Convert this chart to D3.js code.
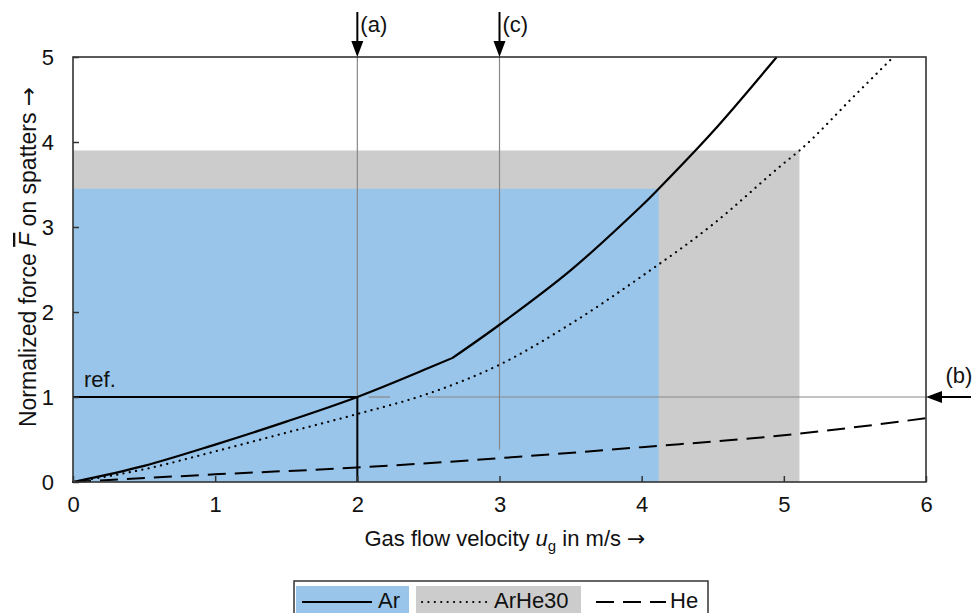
<!DOCTYPE html>
<html>
<head>
<meta charset="utf-8">
<script src="https://cdn.jsdelivr.net/npm/d3@7"></script>
<style>
  body { margin: 0; background: #fff; }
  text { font-family: "Liberation Sans", Arial, sans-serif; fill: #111; }
  .arr { font-family: "DejaVu Sans", sans-serif; }
</style>
</head>
<body>
<div id="chart"></div>
<script>
// curve data
var arU = [0, 0.5, 1, 1.5, 2, 2.5, 2.67, 3, 3.5, 4, 4.12, 4.5, 4.95];
var arF = [0, 0.19, 0.44, 0.71, 1.0, 1.34, 1.46, 1.85, 2.49, 3.25, 3.45, 4.12, 5.0];
var ahU = [0, 0.5, 1, 1.5, 2, 2.5, 3, 3.5, 4, 4.5, 5, 5.11, 5.5, 5.77];
var ahF = [0, 0.15, 0.36, 0.58, 0.8, 1.04, 1.38, 1.86, 2.42, 3.03, 3.75, 3.9, 4.55, 5.0];
var heU = [0, 1, 2, 3, 4, 5, 6];
var heF = [0, 0.09, 0.17, 0.28, 0.41, 0.55, 0.75];

// shaded ranges [uMax, Fmax]
var arRange = [4.12, 3.45];
var ahRange = [5.11, 3.9];

var xTicks = [0, 1, 2, 3, 4, 5, 6];
var yTicks = [0, 1, 2, 3, 4, 5];
var markers = [{u: 2, label: "(a)"}, {u: 3, label: "(c)"}];

var blue = "#99c5ea", grey = "#cccccc";
var fs = 22;

var svg = d3.select("#chart").append("svg")
    .attr("width", 976).attr("height", 613);

var margin = {left: 73, top: 57, right: 50, bottom: 131};
var width = 976 - margin.left - margin.right,
    height = 613 - margin.top - margin.bottom;

var g = svg.append("g").attr("transform", "translate(" + margin.left + "," + margin.top + ")");

var x = d3.scaleLinear().domain([0, 6]).range([0, width]);
var y = d3.scaleLinear().domain([0, 5]).range([height, 0]);

// shaded areas
g.append("rect").attr("x", 0).attr("y", y(ahRange[1]))
    .attr("width", x(ahRange[0])).attr("height", height - y(ahRange[1])).attr("fill", grey);
g.append("rect").attr("x", 0).attr("y", y(arRange[1]))
    .attr("width", x(arRange[0])).attr("height", height - y(arRange[1])).attr("fill", blue);

// grey helper lines
function helper(u1, f1, u2, f2) {
    g.append("line").attr("x1", x(u1)).attr("x2", x(u2)).attr("y1", y(f1)).attr("y2", y(f2))
        .attr("stroke", "#888").attr("stroke-width", 1.2);
}
helper(2, 5, 2, 1);
helper(3, 5, 3, 0.38);
helper(2.08, 1, 2.23, 1);
helper(2.49, 1, 6, 1);

// reference lines
g.append("path")
    .attr("d", d3.line()([[x(0), y(1)], [x(2), y(1)], [x(2), y(0)]]))
    .attr("fill", "none").attr("stroke", "#000").attr("stroke-width", 2);
g.append("text").attr("x", x(0) + 11).attr("y", y(1) - 10)
    .attr("font-size", fs).text("ref.");

// curves
var line = d3.line().x(function (d) { return x(d[0]); }).y(function (d) { return y(d[1]); })
    .curve(d3.curveMonotoneX);
var smooth = d3.line().x(function (d) { return x(d[0]); }).y(function (d) { return y(d[1]); })
    .curve(d3.curveCatmullRom.alpha(0.5));
function series(u, f) { return u.map(function (v, i) { return [v, f[i]]; }); }

g.append("path").attr("d", line(series(heU, heF)))
    .attr("fill", "none").attr("stroke", "#000").attr("stroke-width", 2)
    .attr("stroke-dasharray", "18,9");
g.append("path").attr("d", line(series(ahU, ahF)))
    .attr("fill", "none").attr("stroke", "#000").attr("stroke-width", 2.2)
    .attr("stroke-dasharray", "0.1,6.3").attr("stroke-linecap", "round");
// Ar has a kink at 2.67 m/s: draw the two branches as one path
var kink = 6;
g.append("path")
    .attr("d", line(series(arU.slice(0, kink + 1), arF.slice(0, kink + 1))) +
        smooth(series(arU.slice(kink), arF.slice(kink))).replace(/^M/, "L"))
    .attr("fill", "none").attr("stroke", "#000").attr("stroke-width", 2.2);

// axes
var xAxis = g.append("g").attr("transform", "translate(0," + height + ")")
    .call(d3.axisBottom(x).tickValues(xTicks).tickFormat(d3.format("d"))
        .tickSizeInner(-6).tickSizeOuter(0).tickPadding(14));
var yAxis = g.append("g")
    .call(d3.axisLeft(y).tickValues(yTicks).tickFormat(d3.format("d"))
        .tickSizeInner(-6).tickSizeOuter(0).tickPadding(19));
[xAxis, yAxis].forEach(function (a) {
    a.select(".domain").remove();
    a.selectAll(".tick line").attr("stroke", "#333").attr("stroke-width", 1.5);
    a.selectAll(".tick text").attr("font-size", fs).attr("font-family", "Liberation Sans, Arial, sans-serif").attr("fill", "#111");
});

// frame
g.append("rect").attr("x", 0).attr("y", 0).attr("width", width).attr("height", height)
    .attr("fill", "none").attr("stroke", "#333").attr("stroke-width", 1.6);

// marker arrows at top
markers.forEach(function (m) {
    var px = x(m.u);
    g.append("line").attr("x1", px).attr("x2", px).attr("y1", -45).attr("y2", -14)
        .attr("stroke", "#000").attr("stroke-width", 2);
    g.append("path").attr("d", "M" + (px - 6) + "," + (-16) + "L" + (px + 6) + "," + (-16) + "L" + px + ",0Z")
        .attr("fill", "#000");
    g.append("text").attr("x", px + 3).attr("y", -25).attr("font-size", fs).text(m.label);
});

// arrow (b) on right
var by = y(1), bx = x(6);
g.append("line").attr("x1", bx + 14).attr("x2", bx + 45).attr("y1", by).attr("y2", by)
    .attr("stroke", "#000").attr("stroke-width", 2);
g.append("path").attr("d", "M" + (bx + 16) + "," + (by - 6) + "L" + (bx + 16) + "," + (by + 6) + "L" + bx + "," + by + "Z")
    .attr("fill", "#000");
g.append("text").attr("x", bx + 33).attr("y", by - 14).attr("font-size", fs).attr("text-anchor", "middle").text("(b)");

// axis titles
var xt = svg.append("text").attr("x", 505).attr("y", 546).attr("font-size", fs).attr("text-anchor", "middle");
xt.append("tspan").text("Gas flow velocity ");
xt.append("tspan").attr("font-style", "italic").text("u");
xt.append("tspan").attr("font-size", 15).attr("dy", 5).text("g");
xt.append("tspan").attr("dy", -5).text(" in m/s ");
xt.append("tspan").attr("class", "arr").text("\u2192");

var yt = svg.append("text").attr("transform", "translate(36,257) rotate(-90)")
    .attr("font-size", 23).attr("text-anchor", "middle");
yt.append("tspan").text("Normalized force ");
yt.append("tspan").attr("font-style", "italic").style("text-decoration", "overline").text("F");
yt.append("tspan").text(" on spatters ");
yt.append("tspan").attr("class", "arr").text("\u2192");

// legend
var leg = svg.append("g").attr("transform", "translate(294,581)");
leg.append("rect").attr("x", 0).attr("y", 0).attr("width", 414).attr("height", 40)
    .attr("fill", "#fff").attr("stroke", "#333").attr("stroke-width", 1.5);
var legItems = [
    {name: "Ar", bg: blue, x0: 2, w: 113, tx: 82, dash: null},
    {name: "ArHe30", bg: grey, x0: 122, w: 165, tx: 78, dash: "0.1,6.3"},
    {name: "He", bg: null, x0: 296, w: 116, tx: 80, dash: "18,9"}
];
legItems.forEach(function (it) {
    if (it.bg) leg.append("rect").attr("x", it.x0).attr("y", 5).attr("width", it.w).attr("height", 35).attr("fill", it.bg);
    leg.append("line").attr("x1", it.x0 + 6).attr("x2", it.x0 + 76).attr("y1", 21).attr("y2", 21)
        .attr("stroke", "#000").attr("stroke-width", 2.2)
        .attr("stroke-dasharray", it.dash).attr("stroke-linecap", it.dash && it.dash[0] === "0" ? "round" : "butt");
    leg.append("text").attr("x", it.x0 + it.tx).attr("y", 27).attr("font-size", 22).text(it.name);
});
</script>
</body>
</html>
